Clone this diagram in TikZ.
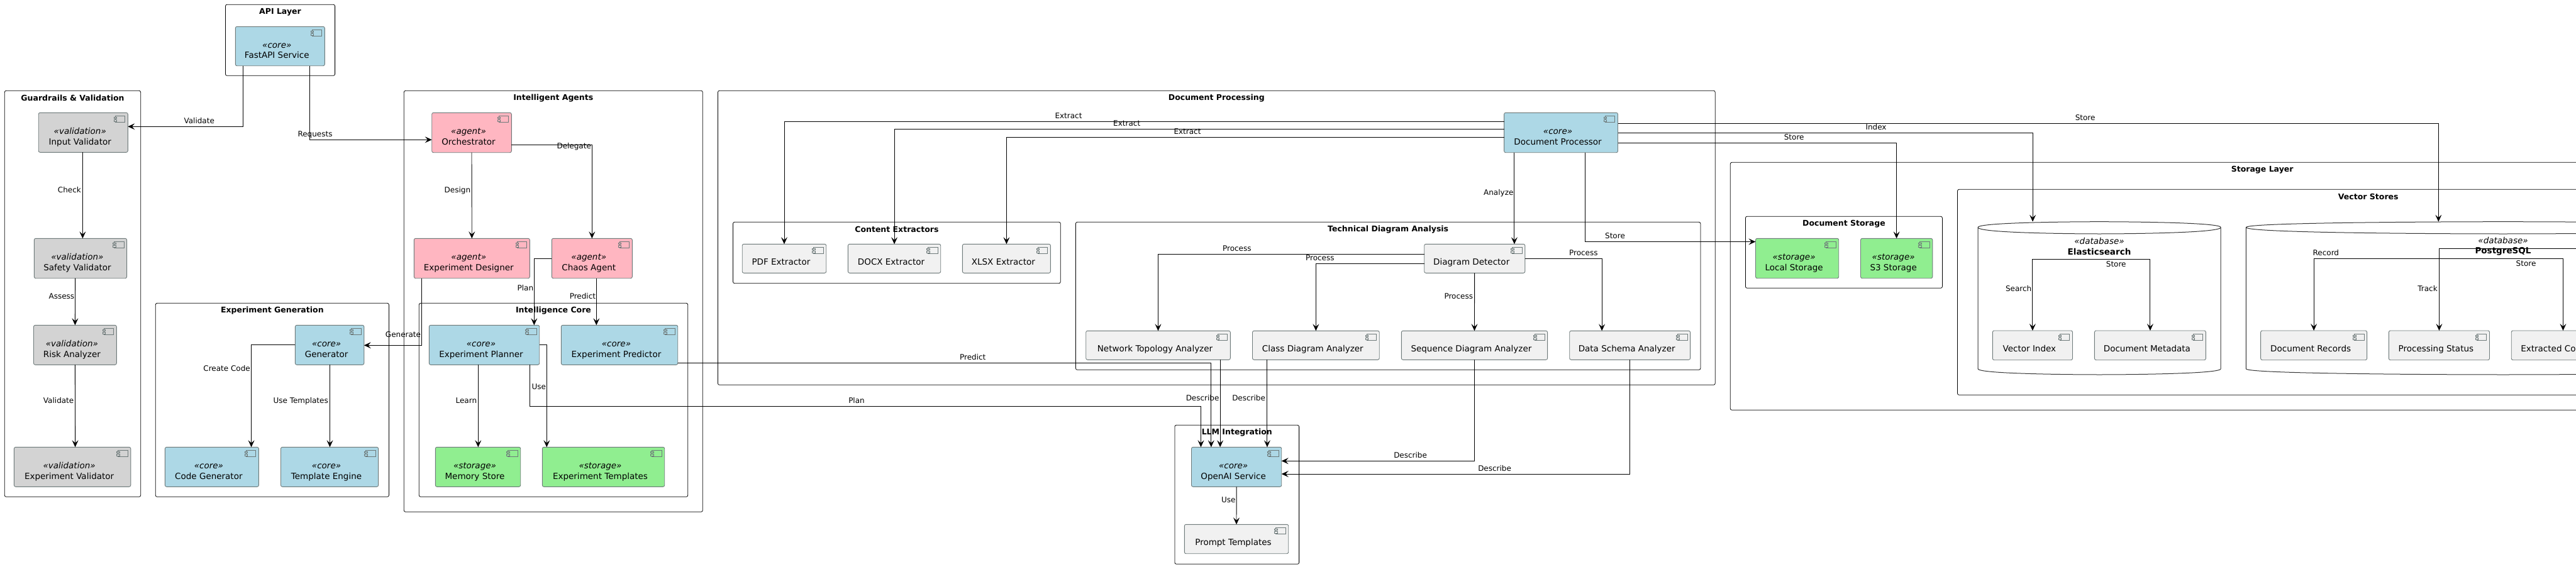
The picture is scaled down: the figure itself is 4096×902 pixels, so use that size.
\documentclass[tikz,border=0pt]{standalone}
\usepackage{fontspec}
\setmainfont{DejaVu Sans}
\usetikzlibrary{arrows.meta,positioning}

\definecolor{corefill}{HTML}{ADD8E6}
\definecolor{agentfill}{HTML}{FFB6C1}
\definecolor{storefill}{HTML}{90EE90}
\definecolor{valfill}{HTML}{D3D3D3}
\definecolor{plainfill}{HTML}{F1F1F1}
\definecolor{boxline}{HTML}{6E7A7A}

\tikzset{
  layerbox/.style={draw=black, line width=.8pt, rounded corners=2.5pt, inner sep=0pt, outer sep=0pt},
  layertitle/.style={font=\fontsize{12.5}{15}\bfseries\selectfont, inner sep=0pt},
  compbox/.style={draw=boxline, line width=.9pt, rounded corners=2.5pt, inner sep=0pt, outer sep=0pt,
    font=\fontsize{13.5}{16}\selectfont},
  plainbox/.style={compbox, fill=plainfill},
  corebox/.style={compbox, fill=corefill},
  agentbox/.style={compbox, fill=agentfill},
  storebox/.style={compbox, fill=storefill},
  valbox/.style={compbox, fill=valfill},
  conn/.style={draw=black, line width=.9pt, -{Stealth[length=11pt,width=10pt,inset=4.5pt]}},
  iconline/.style={draw=boxline, line width=.7pt},
  dbline/.style={draw=black!80, line width=1pt},
  dbtext/.style={font=\fontsize{13.5}{16.7}\selectfont, align=center, inner sep=0pt},
  lbl/.style={font=\fontsize{12}{14}\selectfont, inner sep=0pt, text height=9pt, text depth=3pt}
}

\newcommand{\compnode}[7]{\node[#1, minimum width={#4-#3}, minimum height={#6-#5}] (#2) at ({(#3+#4)/2},{(#5+#6)/2}) {#7};}
\newcommand{\layerframe}[6]{\node[layerbox, minimum width={#3-#2}, minimum height={#5-#4}] (#1) at ({(#2+#3)/2},{(#4+#5)/2}) {};
  \node[layertitle] (#1t) at ([yshift=-11.7pt]#1.north) {#6};}
\newcommand{\onerow}[1]{\raisebox{-10.2pt}[0pt][0pt]{\makebox[0pt]{\kern-10pt #1}}}
\newcommand{\tworow}[2]{\raisebox{-2.5pt}[0pt][0pt]{\makebox[0pt]{\kern-10pt\itshape «#1»}}\raisebox{-19.2pt}[0pt][0pt]{\makebox[0pt]{\kern-10pt #2}}}
\newcommand{\dbshape}[2]{\draw[dbline] (#1,361.7) .. controls (#1,352.7) and ({(#1+#2)/2},352.7) .. ({(#1+#2)/2},352.7)
    .. controls ({(#1+#2)/2},352.7) and (#2,352.7) .. (#2,361.7) -- (#2,586.7)
    .. controls (#2,596) and ({(#1+#2)/2},596) .. ({(#1+#2)/2},596)
    .. controls ({(#1+#2)/2},596) and (#1,596) .. (#1,586.7) -- cycle
    (#1,361.7) .. controls (#1,372) and ({(#1+#2)/2},372) .. ({(#1+#2)/2},372)
    .. controls ({(#1+#2)/2},372) and (#2,372) .. (#2,361.7);}

\begin{document}
\begin{tikzpicture}[x=1pt, y=-1pt]
\useasboundingbox (0,0) rectangle (4096,902);
\clip (0,0) rectangle (4096,902);

\layerframe{apilayer}{358.4}{532.6}{7.3}{120.3}{API Layer}
\layerframe{guardlayer}{7.3}{223.7}{144.3}{790.3}{Guardrails \& Validation}
\layerframe{genlayer}{247.3}{618.4}{482.3}{790.3}{Experiment Generation}
\layerframe{agentlayer}{642.3}{1117.3}{144.3}{814.3}{Intelligent Agents}
\layerframe{intlayer}{666.3}{1093.7}{482.3}{790.3}{Intelligence Core}
\layerframe{doclayer}{1141.4}{2727.2}{144.3}{612.3}{Document Processing}
\layerframe{extlayer}{1165.5}{1686.3}{353.3}{450.7}{Content Extractors}
\layerframe{techlayer}{1710.4}{2703.9}{353.3}{588.3}{Technical Diagram Analysis}
\layerframe{llmlayer}{1867.9}{2065.6}{676.3}{897.3}{LLM Integration}
\layerframe{storelayer}{2751.3}{4443}{258.3}{652.3}{Storage Layer}
\layerframe{dstlayer}{2775.4}{3088.4}{344.3}{458.3}{Document Storage}
\layerframe{veclayer}{3112.5}{4419}{301.3}{628.3}{Vector Stores}

\dbshape{3145.1}{3531.1}
\dbshape{3571.3}{4388.7}
\node[dbtext] (elastic) at (3338,391.7) {\textit{«database»}\\\textbf{Elasticsearch}};
\node[dbtext] (postgres) at (3980,391.7) {\textit{«database»}\\\textbf{PostgreSQL}};
\coordinate (elastictop) at (3232.1,352.7);
\coordinate (postgrestop) at (3877.3,352.7);
\coordinate (esjoin) at (3325,412.3);
\coordinate (pgjoin) at (3880,411.7);
\coordinate (pgtrack) at (4120,395.3);

\compnode{corebox}{fastapi}{374.3}{516.3}{42.3}{104.7}{\tworow{core}{FastAPI Service}}
\compnode{valbox}{inputval}{61.2}{203.3}{179.3}{242.3}{\tworow{validation}{Input Validator}}
\compnode{valbox}{safetyval}{54.3}{201.6}{379.3}{442.7}{\tworow{validation}{Safety Validator}}
\compnode{valbox}{riskan}{53.5}{185.3}{517.3}{580.3}{\tworow{validation}{Risk Analyzer}}
\compnode{valbox}{expval}{22.4}{207.8}{711.3}{774.3}{\tworow{validation}{Experiment Validator}}
\compnode{corebox}{generator}{469.4}{578.8}{517.3}{580.3}{\tworow{core}{Generator}}
\compnode{corebox}{codegen}{262.4}{411.4}{711.3}{774.3}{\tworow{core}{Code Generator}}
\compnode{corebox}{tplengine}{446.5}{601.6}{711.3}{774.3}{\tworow{core}{Template Engine}}
\compnode{agentbox}{orchestrator}{686.7}{813.3}{179.3}{242.7}{\tworow{agent}{Orchestrator}}
\compnode{agentbox}{designer}{658.3}{842.3}{379.3}{442.7}{\tworow{agent}{Experiment Designer}}
\compnode{agentbox}{chaos}{877.3}{1005.3}{379.3}{442.7}{\tworow{agent}{Chaos Agent}}
\compnode{corebox}{planner}{682.3}{857.7}{517.3}{580.3}{\tworow{core}{Experiment Planner}}
\compnode{corebox}{predictor}{892.3}{1077.7}{517.3}{580.3}{\tworow{core}{Experiment Predictor}}
\compnode{storebox}{memstore}{692.3}{827.7}{711.3}{774.3}{\tworow{storage}{Memory Store}}
\compnode{storebox}{exptpl}{862.3}{1056.7}{711.3}{774.3}{\tworow{storage}{Experiment Templates}}
\compnode{corebox}{docproc}{2391.6}{2572.5}{179.3}{242.7}{\tworow{core}{Document Processor}}
\compnode{plainbox}{pdfex}{1180.2}{1313.7}{388.3}{434.3}{\onerow{PDF Extractor}}
\compnode{plainbox}{docxex}{1348.4}{1495.7}{388.3}{434.3}{\onerow{DOCX Extractor}}
\compnode{plainbox}{xlsxex}{1530.4}{1670.4}{388.3}{434.3}{\onerow{XLSX Extractor}}
\compnode{plainbox}{detector}{2264.7}{2424.8}{388.3}{434.3}{\onerow{Diagram Detector}}
\compnode{plainbox}{topo}{1726.7}{1956.3}{526.3}{572.3}{\onerow{Network Topology Analyzer}}
\compnode{plainbox}{classan}{1991.5}{2193.2}{526.3}{572.3}{\onerow{Class Diagram Analyzer}}
\compnode{plainbox}{seqan}{2228.3}{2460.6}{526.3}{572.3}{\onerow{Sequence Diagram Analyzer}}
\compnode{plainbox}{schema}{2495.7}{2687.6}{526.3}{572.3}{\onerow{Data Schema Analyzer}}
\compnode{corebox}{openai}{1894.5}{2037.7}{711.3}{774.3}{\tworow{core}{OpenAI Service}}
\compnode{plainbox}{prompttpl}{1883.3}{2048.7}{834.3}{880.7}{\onerow{Prompt Templates}}
\compnode{storebox}{localst}{2791.5}{2923.7}{379.3}{442.7}{\tworow{storage}{Local Storage}}
\compnode{storebox}{sthree}{2958.5}{3072.8}{379.3}{442.7}{\tworow{storage}{S3 Storage}}
\compnode{plainbox}{vindex}{3168.3}{3295.5}{526}{572.7}{\onerow{Vector Index}}
\compnode{plainbox}{docmeta}{3330.4}{3507.4}{526}{572.7}{\onerow{Document Metadata}}
\compnode{plainbox}{docrec}{3594.6}{3763.6}{526}{572.7}{\onerow{Document Records}}
\compnode{plainbox}{procstat}{3798.3}{3958.5}{526}{572.7}{\onerow{Processing Status}}
\compnode{plainbox}{extracted}{3993.2}{4157.6}{526}{572.7}{\onerow{\kern-37pt Extracted Co}}

\foreach \n in {fastapi,inputval,safetyval,riskan,expval,generator,codegen,tplengine,orchestrator,designer,chaos,
  planner,predictor,memstore,exptpl,docproc,pdfex,docxex,xlsxex,detector,topo,classan,seqan,schema,openai,prompttpl,
  localst,sthree,vindex,docmeta,docrec,procstat}
  \draw[iconline, shift={(\n.north east)}] (-20.3,7) -- (-20.3,5) -- (-4.7,5) -- (-4.7,15.3) -- (-20.3,15.3) -- (-20.3,14)
    (-20.3,9.5) -- (-20.3,11.5)
    (-22,7) rectangle (-17.7,9.5) (-22,11.5) rectangle (-17.7,14);

\draw[conn] (fastapi.south -| 386.5,0) |- (inputval.east |- 0,201.3);
\draw[conn] (fastapi.south -| 492.2,0) |- (orchestrator.west |- 0,222.3);
\draw[conn] (inputval.south -| 131.4,0) -- (safetyval.north -| 131.4,0);
\draw[conn] (safetyval.south -| 119.6,0) -- (riskan.north);
\draw[conn] (riskan.south) -- (expval.north -| 119.6,0);
\draw[conn] (generator.west) -| (codegen.north -| 399.6,0);
\draw[conn] (generator.south -| 524.5,0) -- (tplengine.north -| 524.5,0);
\draw[conn] (designer.south -| 670.3,0) |- (generator.east |- 0,549.3);
\draw[conn] (orchestrator.south) -- (designer.north);
\draw[conn] (orchestrator.east |- 0,230.3) -| (chaos.north);
\draw[conn] (chaos.west) -| (planner.north -| 849.3,0);
\draw[conn] (chaos.south -| 948.3,0) -- (predictor.north -| 948.3,0);
\draw[conn] (planner.south -| 760.3,0) -- (memstore.north -| 760.3,0);
\draw[conn] (planner.east) -| (exptpl.north -| 869.3,0);
\draw[conn] (planner.south -| 842.7,0) |- (1909.5,646.3) -- (openai.north -| 1909.5,0);
\draw[conn] (predictor.east |- 0,577.3) -| (openai.north -| 1925.8,0);
\draw[conn] (topo.south -| 1940.1,0) -- (openai.north -| 1940.1,0);
\draw[conn] (classan.south -| 2014.9,0) -- (openai.north -| 2014.9,0);
\draw[conn] (seqan.south) |- (openai.east |- 0,733.3);
\draw[conn] (schema.south) |- (openai.east |- 0,754);
\draw[conn] (openai.south) -- (prompttpl.north);
\draw[conn] (docproc.west |- 0,193.3) -| (pdfex.north);
\draw[conn] (docproc.west |- 0,205.3) -| (docxex.north);
\draw[conn] (docproc.west |- 0,218.3) -| (xlsxex.north);
\draw[conn] (docproc.south -| 2407.9,0) -- (detector.north -| 2407.9,0);
\draw[conn] (docproc.south -| 2520.4,0) |- (localst.west |- 0,384.5);
\draw[conn] (docproc.east |- 0,227.3) -| (sthree.north -| 3015.6,0);
\draw[conn] (docproc.east |- 0,211.5) -| (elastictop);
\draw[conn] (docproc.east |- 0,196.3) -| (postgrestop);
\draw[conn] (detector.west |- 0,404.3) -| (topo.north);
\draw[conn] (detector.west |- 0,419.3) -| (classan.north);
\draw[conn] (detector.south -| 2344.6,0) -- (seqan.north);
\draw[conn] (detector.east |- 0,411.3) -| (schema.north -| 2547.1,0);
\draw[conn] (esjoin) -| (vindex.north);
\draw[conn] (esjoin) -| (docmeta.north);
\draw[conn] (pgjoin) -| (docrec.north);
\draw[conn] (pgjoin) -| (extracted.north);
\draw[conn] (pgtrack) -| (procstat.north);

\foreach \n/\x/\y/\t in {lvalidate/316.7/193.3/Validate, lrequests/501/214.3/Requests, ldelegate/912.7/233.7/Delegate,
  lgenerate/641/533.7/Generate, lpredict/1546.7/569.7/Predict, lplan/1362/638.3/Plan,
  lextracta/1699/185.3/Extract, lextractb/1791.7/197.7/Extract, lextractc/1888/210.7/Extract,
  lstorea/3315.6/188.7/Store, lindex/2983/203.7/Index, lstoreb/2852.7/219.3/Store, lstorec/2568/376.7/Store,
  lprocessa/1966.8/396.7/Process, lprocessb/2098.8/411.7/Process, lprocessc/2517.8/403.7/Process,
  ldescribea/1912.1/634.3/Describe, ldescribeb/1985.6/634.3/Describe, ldescribec/2242.6/725.3/Describe,
  ldescribed/2376.6/746.3/Describe, lstored/3364.7/421.7/Store, lrecord/3698.3/403.3/Record, lstoree/4016.5/420.7/Store}
  \node[lbl] (\n) at (\x,\y) {\t};
\foreach \n/\x/\y/\t in {lcheck/129/303.3/Check, lassess/118.4/472.3/Assess, lvalidateb/117.5/638.3/Validate,
  lcreate/398/587.3/Create Code, lusetpl/522/638.3/Use Templates, ldesign/748.3/303.3/Design, lplanb/848.3/459.3/Plan,
  lpredictb/947.3/472.3/Predict, llearn/758.3/638.3/Learn, luse/868.3/616.7/Use, lanalyze/2406.6/307.7/Analyze,
  lprocessd/2342.2/472.7/Process, luseb/1964.8/796.7/Use, lsearch/3230.4/460.3/Search, ltrack/3875.9/460.3/Track}
  \node[lbl, anchor=east] (\n) at (\x,\y) {\t};
\end{tikzpicture}
\end{document}
